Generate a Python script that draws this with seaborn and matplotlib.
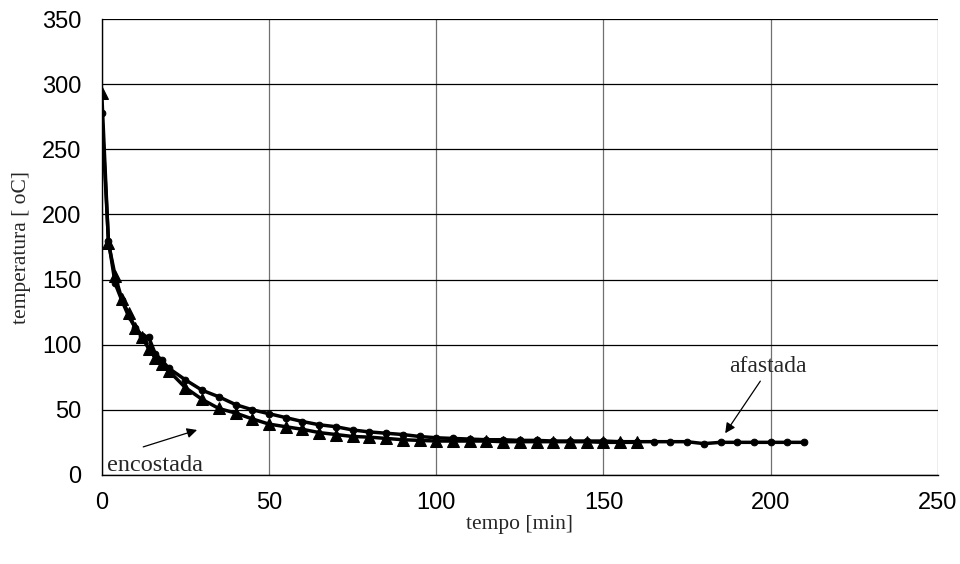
import numpy as np
import pandas as pd
import matplotlib
matplotlib.use("Agg")
import matplotlib.pyplot as plt
import seaborn as sns

# afastada (circles)
t_afastada = [0, 2, 4, 6, 8, 10, 12, 14, 16, 18, 20, 25, 30, 35, 40, 45, 50, 55, 60, 65,
              70, 75, 80, 85, 90, 95, 100, 105, 110, 115, 120, 125, 130, 135, 140, 145,
              150, 155, 160, 165, 170, 175, 180, 185, 190, 195, 200, 205, 210]
temp_afastada = [278, 180, 147, 134, 122, 113, 107, 106, 93, 88, 82, 73, 65, 60, 54, 50,
                 47, 44, 41, 38.5, 37, 34.5, 33, 32, 31, 29.5, 28.5, 28, 27.5, 27, 27,
                 26.5, 26.5, 26, 26, 26, 26, 25.5, 25.5, 25.5, 25.5, 25.5, 24, 25, 25, 25,
                 25, 25, 25]

# encostada (triangles)
t_encostada = [0, 2, 4, 6, 8, 10, 12, 14, 16, 18, 20, 25, 30, 35, 40, 45, 50, 55, 60, 65,
               70, 75, 80, 85, 90, 95, 100, 105, 110, 115, 120, 125, 130, 135, 140, 145,
               150, 155, 160]
temp_encostada = [293, 178, 153, 135, 124, 113, 106, 97, 90, 85, 80, 67, 58, 51, 47.5, 43,
                  39, 37, 35, 32.5, 31, 29.5, 29, 28, 27, 26.5, 26, 26, 26, 26, 25.5, 25.5,
                  25.5, 25.5, 25.5, 25.5, 25, 25, 25]

df_af = pd.DataFrame({"tempo": t_afastada, "temp": temp_afastada})
df_en = pd.DataFrame({"tempo": t_encostada, "temp": temp_encostada})

sns.set_style("white")
plt.rcParams["font.family"] = ["Liberation Sans", "DejaVu Sans"]

fig = plt.figure(figsize=(9.6, 5.64), dpi=100)
ax = fig.add_axes([0.106, 0.158, 0.871, 0.808])

sns.lineplot(data=df_af, x="tempo", y="temp", ax=ax, color="black", linewidth=2.5,
             marker="o", markersize=4.8, markeredgecolor="black", sort=False)
sns.lineplot(data=df_en, x="tempo", y="temp", ax=ax, color="black", linewidth=2.5,
             marker="^", markersize=8, markeredgecolor="black", sort=False)

ax.set_xlim(0, 250)
ax.set_ylim(0, 350)
ax.set_xticks(np.arange(0, 251, 50))
ax.set_yticks(np.arange(0, 351, 50))
ax.grid(True, axis="y", color="black", linewidth=0.9)
ax.grid(True, axis="x", color="#707070", linewidth=0.9)
ax.set_axisbelow(True)

for s in ["top", "right"]:
    ax.spines[s].set_visible(False)
for s in ["left", "bottom"]:
    ax.spines[s].set_color("black")
    ax.spines[s].set_linewidth(1.0)

ax.tick_params(axis="both", which="major", length=5, width=1, direction="inout",
               labelsize=17, colors="black")
ax.tick_params(axis="x", pad=10)
ax.tick_params(axis="y", pad=12)

serif = ["Liberation Serif", "DejaVu Serif"]
ax.set_xlabel("tempo [min]", fontsize=15.5, family=serif)
ax.set_ylabel("temperatura [ oC]", fontsize=15.5, family=serif)
ax.xaxis.set_label_coords(0.5, -0.108)
ax.yaxis.set_label_coords(-0.096, 0.5)
ax.xaxis.label.set_va("center")
ax.yaxis.label.set_va("center")

arrow = dict(arrowstyle="-|>", color="black", lw=0.9, shrinkA=0, shrinkB=0,
             mutation_scale=15)
ax.text(16, 7, "encostada", fontsize=17.5, family=serif, ha="center", va="center")
ax.annotate("", xy=(28.5, 34.5), xytext=(12.4, 21.5), arrowprops=arrow)
ax.text(199.3, 83, "afastada", fontsize=17, family=serif, ha="center", va="center")
ax.annotate("", xy=(186.4, 32), xytext=(196.9, 72), arrowprops=arrow)

fig.savefig("out.png", dpi=100)
